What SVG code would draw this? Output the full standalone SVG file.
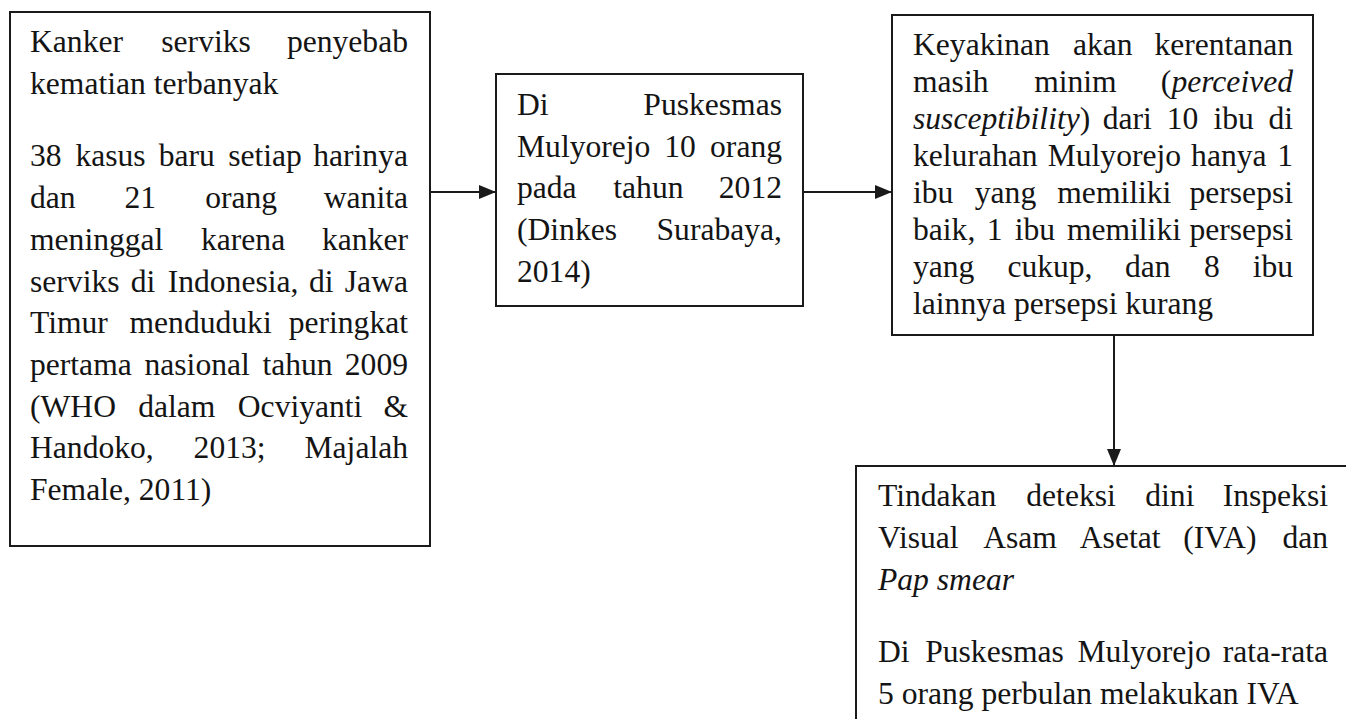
<svg xmlns="http://www.w3.org/2000/svg" width="1346" height="719" viewBox="0 0 1346 719">
<style>
.box{fill:#fff;stroke:#1a1a1a;stroke-width:2}
text{font-family:"Liberation Serif","Times New Roman",serif;font-size:31.6px;fill:#141414}
.e{text-anchor:end}
.i{font-style:italic}
.conn{stroke:#1a1a1a;stroke-width:2;fill:none}
</style>
<defs>
<marker id="arr" markerUnits="userSpaceOnUse" markerWidth="18" markerHeight="16" refX="17" refY="8" orient="auto">
<path d="M0,1 L17,8 L0,15 Z" fill="#1a1a1a"/>
</marker>
</defs>
<rect width="1346" height="719" fill="#fff"/>
<g id="node1">
<rect class="box" x="10" y="12" width="420" height="534"/>
<text x="30" y="52">Kanker</text><text x="161.3" y="52">serviks</text><text class="e" x="408" y="52">penyebab</text>
<text x="30" y="94">kematian terbanyak</text>
<text x="30" y="166">38</text><text x="75.4" y="166">kasus</text><text x="158.7" y="166">baru</text><text x="228.2" y="166">setiap</text><text class="e" x="408" y="166">harinya</text>
<text x="30" y="208">dan</text><text x="124.5" y="208">21</text><text x="205.2" y="208">orang</text><text class="e" x="408" y="208">wanita</text>
<text x="30" y="250">meninggal</text><text x="201" y="250">karena</text><text class="e" x="408" y="250">kanker</text>
<text x="30" y="292">serviks</text><text x="130.7" y="292">di</text><text x="167.7" y="292">Indonesia,</text><text x="308.9" y="292">di</text><text class="e" x="408" y="292">Jawa</text>
<text x="30" y="333">Timur</text><text x="129.5" y="333">menduduki</text><text class="e" x="408" y="333">peringkat</text>
<text x="30" y="375">pertama</text><text x="144.5" y="375">nasional</text><text x="262.4" y="375">tahun</text><text class="e" x="408" y="375">2009</text>
<text x="30" y="417">(WHO</text><text x="138.2" y="417">dalam</text><text x="237.8" y="417">Ocviyanti</text><text class="e" x="408" y="417">&amp;</text>
<text x="30" y="458">Handoko,</text><text x="193.6" y="458">2013;</text><text class="e" x="408" y="458">Majalah</text>
<text x="30" y="500">Female, 2011)</text>
</g>
<g id="node2">
<rect class="box" x="496" y="74" width="307" height="232"/>
<text x="517" y="115">Di</text><text class="e" x="782" y="115">Puskesmas</text>
<text x="517" y="157">Mulyorejo</text><text x="664.2" y="157">10</text><text class="e" x="782" y="157">orang</text>
<text x="517" y="198">pada</text><text x="613.3" y="198">tahun</text><text class="e" x="782" y="198">2012</text>
<text x="517" y="240">(Dinkes</text><text class="e" x="782" y="240">Surabaya,</text>
<text x="517" y="282">2014)</text>
</g>
<g id="node3">
<rect class="box" x="892" y="15" width="421" height="320"/>
<text x="913" y="55">Keyakinan</text><text x="1072.9" y="55">akan</text><text class="e" x="1293" y="55">kerentanan</text>
<text x="913" y="92">masih</text><text x="1034.2" y="92">minim</text><text class="e" x="1293" y="92">(<tspan class="i">perceived</tspan></text>
<text x="913" y="129"><tspan class="i">susceptibility</tspan>)</text><text x="1102.7" y="129">dari</text><text x="1166.7" y="129">10</text><text x="1213.5" y="129">ibu</text><text class="e" x="1293" y="129">di</text>
<text x="913" y="166">kelurahan</text><text x="1047.7" y="166">Mulyorejo</text><text x="1191.1" y="166">hanya</text><text class="e" x="1293" y="166">1</text>
<text x="913" y="203">ibu</text><text x="974.8" y="203">yang</text><text x="1057.3" y="203">memiliki</text><text class="e" x="1293" y="203">persepsi</text>
<text x="913" y="240">baik,</text><text x="986.7" y="240">1</text><text x="1014.7" y="240">ibu</text><text x="1066.9" y="240">memiliki</text><text class="e" x="1293" y="240">persepsi</text>
<text x="913" y="277">yang</text><text x="1007.4" y="277">cukup,</text><text x="1125" y="277">dan</text><text x="1203.9" y="277">8</text><text class="e" x="1293" y="277">ibu</text>
<text x="913" y="314">lainnya persepsi kurang</text>
</g>
<g id="node4">
<rect class="box" x="856" y="466" width="520" height="300"/>
<text x="878" y="506">Tindakan</text><text x="1026.3" y="506">deteksi</text><text x="1145.3" y="506">dini</text><text class="e" x="1328" y="506">Inspeksi</text>
<text x="878" y="548">Visual</text><text x="983.2" y="548">Asam</text><text x="1079.8" y="548">Asetat</text><text x="1183.3" y="548">(IVA)</text><text class="e" x="1328" y="548">dan</text>
<text class="i" x="878" y="590">Pap smear</text>
<text x="878" y="662">Di</text><text x="925.2" y="662">Puskesmas</text><text x="1077.5" y="662">Mulyorejo</text><text class="e" x="1328" y="662">rata-rata</text>
<text x="878" y="704">5 orang perbulan melakukan IVA</text>
</g>
<g id="connectors">
<line class="conn" x1="430" y1="192" x2="496" y2="192" marker-end="url(#arr)"/>
<line class="conn" x1="803" y1="192" x2="892" y2="192" marker-end="url(#arr)"/>
<line class="conn" x1="1114" y1="335" x2="1114" y2="466" marker-end="url(#arr)"/>
</g>
</svg>
